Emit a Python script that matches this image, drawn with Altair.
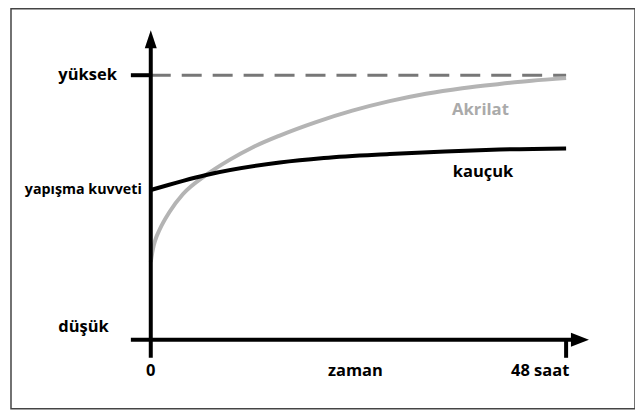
import altair as alt
import pandas as pd

# Curve data (hours, relative adhesion 0..100)
akrilat_h = [0, 0.23, 0.5, 1.0, 2.2, 3.7, 6.4, 9.1, 11.8, 14.9, 19.1, 23.3, 27.6, 31.8, 36.0, 40.3, 44.0, 48]
akrilat_v = [29.4, 34.0, 37.5, 41.5, 48.5, 55.0, 62.3, 68.0, 72.8, 77.2, 82.3, 86.6, 90.2, 93.0, 95.1, 96.7, 97.9, 98.9]
kaucuk_h = [0, 6.4, 14.9, 20.0, 27.6, 34.0, 40.3, 48]
kaucuk_v = [56.6, 62.3, 67.0, 68.7, 70.2, 71.2, 71.9, 72.3]

HIGH = 100
X_END = 48

FONT = "Open Sans"

xs = alt.Scale(domain=[0, 48], range=[143, 559])
ys = alt.Scale(domain=[0, 100], range=[332, 67])

def X(f="h"):
    return alt.X(f"{f}:Q", scale=xs, axis=None)

def Y(f="v"):
    return alt.Y(f"{f}:Q", scale=ys, axis=None)

# border
border = alt.Chart(pd.DataFrame({"a": [0]})).mark_rect(
    fill=None, stroke="#444444", strokeWidth=1.5
).encode(x=alt.value(3), x2=alt.value(628), y=alt.value(0.5), y2=alt.value(401))

ak = pd.DataFrame({"h": akrilat_h, "v": akrilat_v})
ka = pd.DataFrame({"h": kaucuk_h, "v": kaucuk_v})

line_ak = alt.Chart(ak).mark_line(color="#b4b4b4", strokeWidth=4, interpolate="monotone").encode(x=X(), y=Y())
line_ka = alt.Chart(ka).mark_line(color="#000000", strokeWidth=4, interpolate="monotone").encode(x=X(), y=Y())

# dashed high line
dash = alt.Chart(pd.DataFrame({"h": [0], "h2": [X_END], "v": [HIGH]})).mark_rule(
    color="#777777", strokeWidth=3, strokeDash=[20, 11]
).encode(x=X(), x2="h2:Q", y=Y())

# axes rules
axes = pd.DataFrame({
    "h":  [0, -2.3, 48, -2.3],
    "h2": [0, 49.0, 48, 0],
    "v":  [-6.8, 0, 0, HIGH],
    "v2": [112.5, 0, -6.8, HIGH],
})
axis_rules = alt.Chart(axes).mark_rule(color="black", strokeWidth=4).encode(
    x=X(), x2="h2:Q", y=Y(), y2="v2:Q"
)

up = alt.Chart(pd.DataFrame({"h": [0], "v": [113.6]})).mark_point(
    shape="M0,-1L-0.667,1L0.667,1Z", size=324, filled=True, color="black", opacity=1
).encode(x=X(), y=Y())
right = alt.Chart(pd.DataFrame({"h": [49.6], "v": [0]})).mark_point(
    shape="M1,0L-1,-0.778L-1,0.778Z", size=324, filled=True, color="black", opacity=1
).encode(x=X(), y=Y())

# labels
lab_right = pd.DataFrame({
    "h": [-3.92, -4.85],
    "v": [100, 4.9],
    "t": ["yüksek", "düşük"],
})
lab_small = pd.DataFrame({"h": [-1.04], "v": [56.6], "t": ["yapışma kuvveti"]})
lab_center = pd.DataFrame({
    "h": [0, 23.65, 45.0],
    "v": [-11.7, -11.7, -11.7],
    "t": ["0", "zaman", "48 saat"],
})

t_right = alt.Chart(lab_right).mark_text(
    align="right", baseline="middle", font=FONT, fontSize=16.5, fontWeight="bold", color="black"
).encode(x=X(), y=Y(), text="t:N")
t_small = alt.Chart(lab_small).mark_text(
    align="right", baseline="middle", font=FONT, fontSize=14.3, fontWeight="bold", color="black"
).encode(x=X(), y=Y(), text="t:N")
t_center = alt.Chart(lab_center).mark_text(
    align="center", baseline="middle", font=FONT, fontSize=16.5, fontWeight="bold", color="black"
).encode(x=X(), y=Y(), text="t:N")
t_ak = alt.Chart(pd.DataFrame({"h": [38.1], "v": [86.8], "t": ["Akrilat"]})).mark_text(
    align="center", baseline="middle", font=FONT, fontSize=16.7, fontWeight="bold", color="#aaaaaa"
).encode(x=X(), y=Y(), text="t:N")
t_ka = alt.Chart(pd.DataFrame({"h": [38.4], "v": [63.4], "t": ["kauçuk"]})).mark_text(
    align="center", baseline="middle", font=FONT, fontSize=16.5, fontWeight="bold", color="black"
).encode(x=X(), y=Y(), text="t:N")

chart = alt.layer(
    border, dash, line_ak, line_ka, axis_rules, up, right,
    t_right, t_small, t_center, t_ak, t_ka
).properties(
    width=628, height=402, autosize=alt.AutoSizeParams(type="none"), padding=0
).configure_view(stroke=None)

chart.save("out.html", embed_options={"renderer": "svg", "actions": False})
